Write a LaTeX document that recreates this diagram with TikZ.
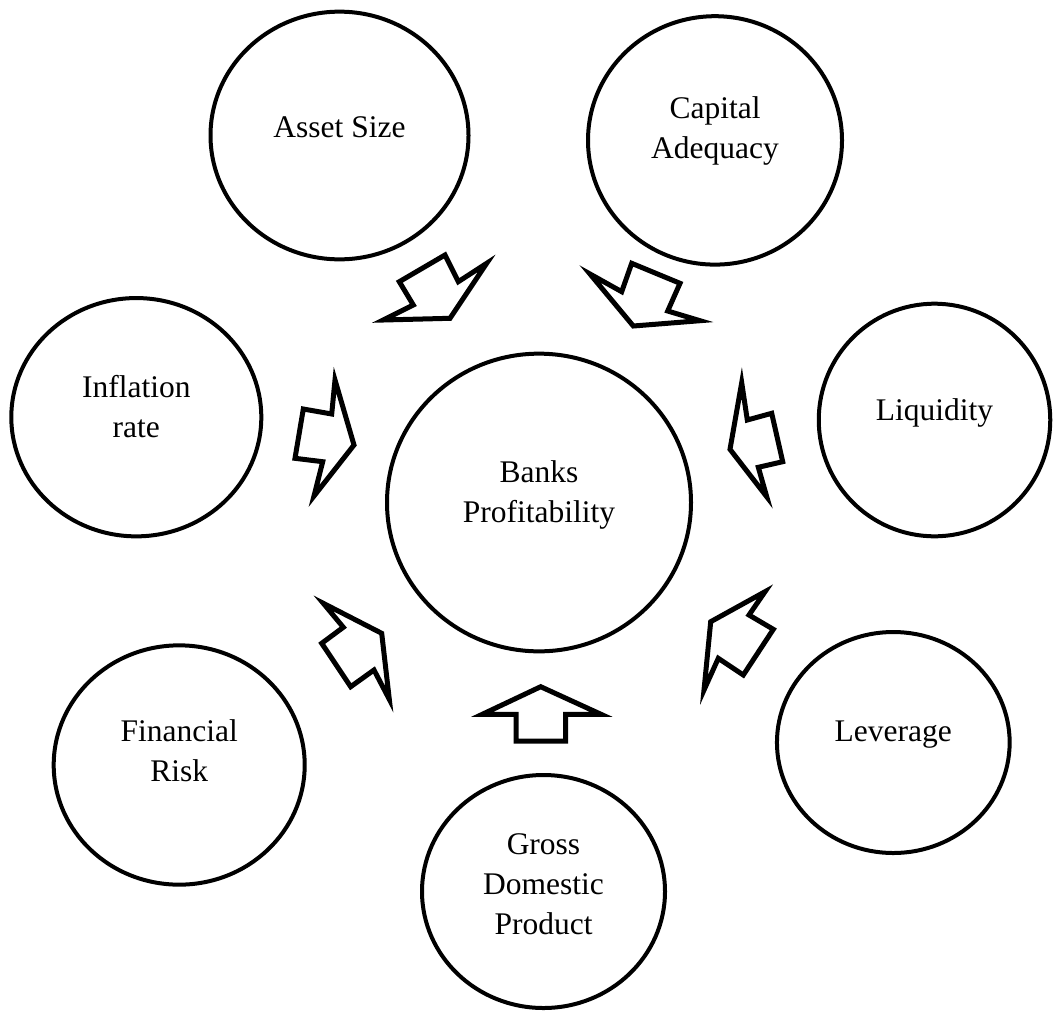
\documentclass[tikz,border=0pt]{standalone}
\usepackage{fontspec}
\setmainfont{Liberation Serif}
\usepackage{tikz}
\usetikzlibrary{shapes.geometric}

\begin{document}
\begin{tikzpicture}[
		x=1pt,
		y=-1pt,
		factor/.style={ellipse, draw, line width=4pt, inner sep=0pt},
		lbl/.style={align=center, inner sep=0pt, font=\fontsize{31.5}{40}\selectfont},
		block/.style={draw, line width=5pt, line join=miter, fill=white}
	]
		\useasboundingbox (0,0) rectangle (1054,1012);
		% factors round the centre
		\node[factor, minimum width=304, minimum height=297.7] (banks) at (539,502.5) {};
		\node[factor, minimum width=258, minimum height=247.7] (asset) at (339.5,135.5) {};
		\node[factor, minimum width=254, minimum height=248.4] (capital) at (715,140.4) {};
		\node[factor, minimum width=250, minimum height=238.3] (inflation) at (136.3,417.2) {};
		\node[factor, minimum width=231.5, minimum height=232.6] (liquidity) at (934.5,420) {};
		\node[factor, minimum width=251, minimum height=239.3] (financial) at (179.2,765) {};
		\node[factor, minimum width=232.7, minimum height=221] (leverage) at (893.3,742.5) {};
		\node[factor, minimum width=243, minimum height=233] (gdp) at (543.5,891.5) {};
		\node[lbl] (banks-t) at ([yshift=8pt]banks) {Banks\\Profitability};
		\node[lbl] (asset-t) at ([yshift=8.5pt]asset) {Asset Size};
		\node[lbl] (capital-t) at ([yshift=9pt]capital) {Capital\\Adequacy};
		\node[lbl] (inflation-t) at ([yshift=11pt]inflation) {Inflation\\rate};
		\node[lbl] (liquidity-t) at ([yshift=7.3pt]liquidity) {Liquidity};
		\node[lbl] (financial-t) at ([yshift=14pt]financial) {Financial\\Risk};
		\node[lbl] (leverage-t) at ([yshift=8pt]leverage) {Leverage};
		\node[lbl] (gdp-t) at ([yshift=7.5pt]gdp) {Gross\\Domestic\\Product};
		% block arrows
		\draw[block] (399.3,281.7) -- (445,255) -- (458.3,281.7) -- (486.7,263.3) -- (450,318.3) -- (383.3,320) -- (413.3,305) -- cycle;
		\draw[block] (590,274) -- (621.7,291.7) -- (631.7,263.3) -- (680,283.3) -- (667.7,311) -- (700,320.7) -- (633.3,326) -- cycle;
		\draw[block] (335,380) -- (331.7,414) -- (303.3,409) -- (295,458.3) -- (322.7,461.7) -- (314,496) -- (354,445) -- cycle;
		\draw[block] (741.7,382.7) -- (747.3,420) -- (771.7,413.3) -- (782.7,461.7) -- (758.3,467.3) -- (766.7,496.7) -- (730,449.3) -- cycle;
		\draw[block] (323.3,603.3) -- (343.3,627.3) -- (321.7,643.3) -- (350.7,686.7) -- (374,670) -- (389.3,699.3) -- (381.7,633.3) -- cycle;
		\draw[block] (765,591.7) -- (749,615) -- (773.3,629.3) -- (743.3,675) -- (718.3,658.3) -- (704,690) -- (710.7,621.7) -- cycle;
		\draw[block] (540.7,686.7) -- (482.3,714.3) -- (516,714.3) -- (516,741) -- (565.7,741) -- (565.7,714.3) -- (601,714.3) -- cycle;
\end{tikzpicture}
\end{document}
